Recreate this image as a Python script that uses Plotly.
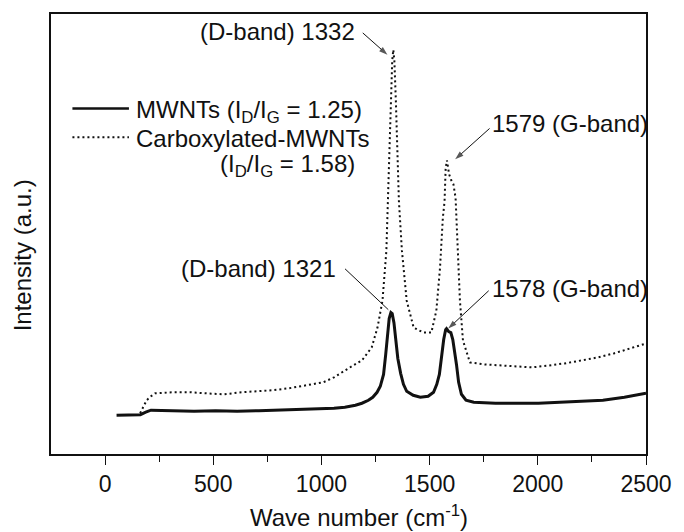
import plotly.graph_objects as go

# ---- data ----
mw_wn = [53, 113, 163, 188, 212, 312, 411, 511, 610, 710, 809, 909, 1008, 1058, 1108, 1157, 1187, 1217,
         1237, 1257, 1272, 1287, 1297, 1305, 1313, 1321, 1327, 1335, 1343, 1353, 1366, 1379, 1394, 1424,
         1457, 1493, 1518, 1533, 1545, 1555, 1565, 1574, 1578, 1588, 1598, 1607, 1615, 1624, 1634, 1647,
         1668, 1704, 1804, 1903, 2003, 2102, 2202, 2301, 2400, 2450, 2500]
mw_int = [39, 39, 39.5, 42, 44, 43.5, 43, 43.5, 43, 43.5, 44, 44.5, 45, 46, 47, 49, 51, 54,
          57, 62, 68, 80, 100, 122, 136, 142, 141, 132, 114, 96, 81, 70, 63, 59,
          57, 58, 62, 70, 80, 98, 115, 125, 126, 123, 122, 115, 105, 90, 72, 60,
          54, 52, 51, 51, 51, 52, 53, 54, 57, 59, 61]

cx_wn = [162, 177, 192, 212, 232, 312, 396, 461, 550, 630, 700, 769, 849, 928, 1008, 1058, 1108, 1147,
         1187, 1232, 1259, 1282, 1300, 1312, 1321, 1327, 1332, 1337, 1344, 1351, 1358, 1372, 1394, 1426,
         1471, 1508, 1531, 1548, 1561, 1569, 1574, 1580, 1590, 1600, 1610, 1620, 1630, 1640, 1654, 1686,
         1754, 1823, 1903, 1973, 2053, 2124, 2202, 2277, 2351, 2427, 2500]
cx_int = [41, 47, 54, 58, 61, 62, 62, 61, 60, 62, 63, 64, 66, 69, 72, 77, 84, 89,
          94, 107, 127, 154, 204, 300, 354, 395, 406, 395, 354, 300, 254, 204, 154, 127,
          122, 122, 144, 187, 237, 254, 287, 295, 281, 275, 271, 257, 204, 154, 114, 92,
          90, 89, 88, 87, 89, 91, 94, 97, 101, 106, 111]

x_ticks = [0, 500, 1000, 1500, 2000, 2500]
x_minor = [250, 750, 1250, 1750, 2250]
names = ["MWNTs (I<sub>D</sub>/I<sub>G</sub> = 1.25)", "Carboxylated-MWNTs",
         "(I<sub>D</sub>/I<sub>G</sub> = 1.58)"]

# peak labels: text, anchor position (data units)
peak_text = ["(D-band) 1332", "1579 (G-band)", "(D-band) 1321", "1578 (G-band)"]
peak_tx = [1164, 1777, 1077, 1777]
peak_ty = [424, 332, 186, 166]
peak_anchor = ["right", "left", "right", "left"]
# arrows: tail -> tip (data units)
arr_x0 = [1191, 1777, 1109, 1773]
arr_y0 = [423, 327, 186, 164]
arr_x1 = [1305, 1618, 1309, 1586]
arr_y1 = [401, 296, 145, 126]
arr_head = [9, 9, 0, 9]

FONT = "Liberation Sans, Arial, sans-serif"
INK = "#111111"
FS = 24

fig = go.Figure()
fig.add_trace(go.Scatter(x=mw_wn, y=mw_int, mode="lines", name="MWNTs",
                         line=dict(color=INK, width=3), showlegend=False))
fig.add_trace(go.Scatter(x=cx_wn, y=cx_int, mode="lines", name="Carboxylated-MWNTs",
                         line=dict(color=INK, width=2, dash="2px,3px"), showlegend=False))

for i in range(len(arr_x0)):
    fig.add_trace(go.Scatter(x=[arr_x0[i], arr_x1[i]], y=[arr_y0[i], arr_y1[i]], mode="lines+markers",
                             line=dict(color=INK, width=1),
                             marker=dict(symbol="arrow", size=[0, arr_head[i]], angleref="previous",
                                         color=INK, line=dict(width=0)),
                             showlegend=False, hoverinfo="skip"))

# manual legend
fig.add_shape(type="line", xref="paper", yref="paper", x0=0.036, x1=0.131, y0=0.785, y1=0.785,
              line=dict(color=INK, width=2.5))
fig.add_shape(type="line", xref="paper", yref="paper", x0=0.036, x1=0.131, y0=0.72, y1=0.72,
              line=dict(color=INK, width=2, dash="2px,3px"))
fig.add_annotation(xref="paper", yref="paper", x=0.140, y=0.779, xanchor="left", yanchor="middle",
                   text=names[0], showarrow=False, font=dict(size=FS, color=INK, family=FONT))
fig.add_annotation(xref="paper", yref="paper", x=0.140, y=0.718, xanchor="left", yanchor="middle",
                   text=names[1], showarrow=False, font=dict(size=FS, color=INK, family=FONT))
fig.add_annotation(xref="paper", yref="paper", x=0.514, y=0.656, xanchor="right", yanchor="middle",
                   text=names[2], showarrow=False, font=dict(size=FS, color=INK, family=FONT))

for i in range(len(peak_text)):
    fig.add_annotation(x=peak_tx[i], y=peak_ty[i], xanchor=peak_anchor[i], yanchor="middle",
                       text=peak_text[i], showarrow=False, font=dict(size=FS, color=INK, family=FONT))

# axis titles
fig.add_annotation(xref="paper", yref="paper", x=0.517, y=-0.141, xanchor="center", yanchor="middle",
                   text="Wave number (cm<sup>-1</sup>)", showarrow=False,
                   font=dict(size=FS, color=INK, family=FONT))
fig.add_annotation(xref="paper", yref="paper", x=-0.048, y=0.4525, xanchor="center", yanchor="middle",
                   text="Intensity (a.u.)", textangle=-90, showarrow=False,
                   font=dict(size=FS, color=INK, family=FONT))

fig.update_layout(
    width=684, height=532,
    margin=dict(l=51, r=28, t=12, b=78),
    paper_bgcolor="white", plot_bgcolor="white",
    font=dict(family=FONT, size=FS, color=INK),
    xaxis=dict(range=[-250, 2500], tickvals=x_ticks, ticks="outside", ticklen=9, tickwidth=1.2,
               tickcolor=INK, showline=True, linecolor=INK, linewidth=1.5, mirror=True,
               showgrid=False, zeroline=False,
               minor=dict(tickvals=x_minor, ticks="outside", ticklen=6, tickwidth=1.2, tickcolor=INK),
               tickfont=dict(size=23)),
    yaxis=dict(range=[0, 442], showticklabels=False, ticks="", showline=True, linecolor=INK,
               linewidth=1.5, mirror=True, showgrid=False, zeroline=False),
)

fig.write_html("out.html")
